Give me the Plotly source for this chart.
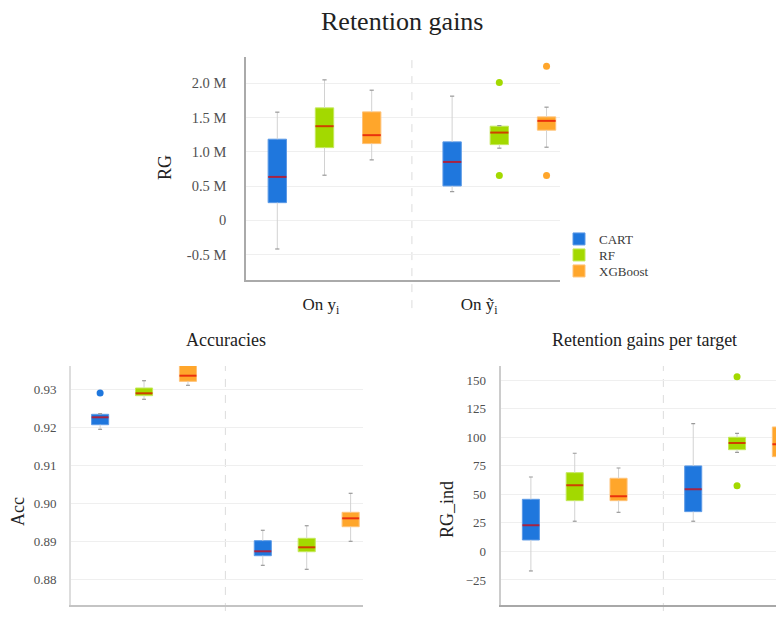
import plotly.graph_objects as go

# ---------------- data ----------------
models = ["CART", "RF", "XGBoost"]
targets = ["On y<sub>i</sub>", "On ỹ<sub>i</sub>"]
colors = ["#1f77dd", "#a3d900", "#ffa62b"]
edge_colors = ["#5c9ae6", "#c4e85a", "#ffc277"]

# Retention gains (rows: models, cols: targets)
rg_q1 = [[257000, 501000], [1061000, 1105000], [1120000, 1316000]]
rg_med = [[633000, 852000], [1374000, 1281000], [1243000, 1452000]]
rg_q3 = [[1184000, 1145000], [1642000, 1374000], [1583000, 1510000]]
rg_lo = [[-420000, 418000], [658000, 1053000], [882000, 1067000]]
rg_hi = [[1579000, 1813000], [2051000, 1383000], [1900000, 1652000]]
rg_out = [[[], []], [[], [2012000, 652000]], [[], [2251000, 652000]]]

# Accuracies
acc_q1 = [[0.92068, 0.88621], [0.92832, 0.88726], [0.93210, 0.89384]]
acc_med = [[0.92263, 0.88737], [0.92895, 0.88842], [0.93358, 0.89605]]
acc_q3 = [[0.92342, 0.89016], [0.93034, 0.89079], [0.93639, 0.89763]]
acc_lo = [[0.91947, 0.88368], [0.92737, 0.88263], [0.93105, 0.89000]]
acc_hi = [[0.92358, 0.89290], [0.93226, 0.89410], [0.93670, 0.90263]]
acc_out = [[[0.92903], []], [[], []], [[], []]]

# Retention gains per target
rgi_q1 = [[10.0, 34.8], [44.4, 89.0], [44.4, 82.9]]
rgi_med = [[22.9, 54.4], [57.8, 94.9], [48.2, 93.7]]
rgi_q3 = [[45.6, 74.8], [68.9, 99.9], [64.0, 108.9]]
rgi_lo = [[-17.1, 26.4], [26.4, 86.7], [34.2, 50.9]]
rgi_hi = [[65.1, 111.8], [85.9, 103.3], [73.0, 111.2]]
rgi_out = [[[], []], [[], [152.9, 57.5]], [[], [152.9]]]

rg_ticks = [-500000, 0, 500000, 1000000, 1500000, 2000000]
rg_ticktext = ["-0.5 M", "0", "0.5 M", "1.0 M", "1.5 M", "2.0 M"]
acc_ticks = [0.88, 0.89, 0.90, 0.91, 0.92, 0.93]
rgi_ticks = [-25, 0, 25, 50, 75, 100, 125, 150]

# ---------------- figure ----------------
PAGE_OFF = 8  # default body margin of the html page
W, H = 784 - 2 * PAGE_OFF, 619 - 2 * PAGE_OFF
FONT = "Liberation Serif"
OFFSET = 0.27
BW = 0.105
CAP = 0.012


def px_x(v):
    return (v - PAGE_OFF) / W


def px_y(v):
    return 1 - (v - PAGE_OFF) / H


fig = go.Figure()

panels = [
    dict(xa="x", ya="y", q1=rg_q1, med=rg_med, q3=rg_q3, lo=rg_lo, hi=rg_hi, out=rg_out, legend=True),
    dict(xa="x2", ya="y2", q1=acc_q1, med=acc_med, q3=acc_q3, lo=acc_lo, hi=acc_hi, out=acc_out, legend=False),
    dict(xa="x3", ya="y3", q1=rgi_q1, med=rgi_med, q3=rgi_q3, lo=rgi_lo, hi=rgi_hi, out=rgi_out, legend=False),
]
legend_ids = ["legend", "legend2", "legend3"]

for p in panels:
    wx, wy, cx, cy, mx, my = [], [], [], [], [], []
    for m, name in enumerate(models):
        xs = [t + (m - 1) * OFFSET for t in range(len(targets))]
        q1 = p["q1"][m]; q3 = p["q3"][m]
        fig.add_trace(go.Bar(
            x=xs, y=[b - a for a, b in zip(q1, q3)], base=q1, width=BW,
            marker=dict(color=colors[m], line=dict(color=edge_colors[m], width=1)),
            name=name, legendgroup=name, showlegend=p["legend"], legend=legend_ids[m],
            xaxis=p["xa"], yaxis=p["ya"], hoverinfo="skip"))
        for t, xc in enumerate(xs):
            lo, hi, med = p["lo"][m][t], p["hi"][m][t], p["med"][m][t]
            wx += [xc, xc, None, xc, xc, None]
            wy += [lo, q1[t], None, q3[t], hi, None]
            cx += [xc - CAP, xc + CAP, None, xc - CAP, xc + CAP, None]
            cy += [lo, lo, None, hi, hi, None]
            mx += [xc - BW / 2, xc + BW / 2, None]
            my += [med, med, None]
        ox, oy = [], []
        for t, xc in enumerate(xs):
            for v in p["out"][m][t]:
                ox.append(xc); oy.append(v)
        if ox:
            fig.add_trace(go.Scatter(x=ox, y=oy, mode="markers",
                                     marker=dict(color=colors[m], size=7),
                                     showlegend=False, xaxis=p["xa"], yaxis=p["ya"], hoverinfo="skip"))
    fig.add_trace(go.Scatter(x=wx, y=wy, mode="lines", line=dict(color="#d2d2d2", width=1),
                             showlegend=False, xaxis=p["xa"], yaxis=p["ya"], hoverinfo="skip"))
    fig.add_trace(go.Scatter(x=cx, y=cy, mode="lines", line=dict(color="#999999", width=1.2),
                             showlegend=False, xaxis=p["xa"], yaxis=p["ya"], hoverinfo="skip"))
    fig.add_trace(go.Scatter(x=mx, y=my, mode="lines", line=dict(color="rgba(225,0,0,0.7)", width=2),
                             showlegend=False, xaxis=p["xa"], yaxis=p["ya"], hoverinfo="skip"))

tick_font = dict(family=FONT, size=13, color="#505050")
leg_font = dict(family=FONT, size=13, color="#3a3a3a")
leg_rows = [239, 255, 271]
legs = {}
for i, lid in enumerate(legend_ids):
    legs[lid] = dict(x=px_x(559), y=px_y(leg_rows[i]), xanchor="left", yanchor="middle",
                     font=leg_font, bgcolor="rgba(0,0,0,0)", borderwidth=0)

fig.update_layout(
    width=W, height=H, autosize=False,
    margin=dict(l=0, r=0, t=0, b=0),
    paper_bgcolor="white", plot_bgcolor="white",
    barmode="overlay",
    font=dict(family=FONT, color="#222"),
    showlegend=True,
    **legs,
    xaxis=dict(domain=[px_x(246), px_x(560)], range=[-0.449, 1.347],
               tickvals=[-0.02, 0.884], ticktext=targets, ticks="outside", ticklen=8,
               tickcolor="rgba(0,0,0,0)", tickfont=dict(family=FONT, size=17, color="#222"),
               showgrid=False, zeroline=False, showline=True, linecolor="#aaaaaa", linewidth=1.5,
               anchor="y"),
    yaxis=dict(domain=[px_y(280), px_y(57)], range=[-873000, 2385000],
               tickvals=rg_ticks, ticktext=rg_ticktext, ticks="outside", ticklen=15,
               tickcolor="rgba(0,0,0,0)", tickfont=dict(family=FONT, size=14.5, color="#505050"),
               showgrid=True, gridcolor="#efefef", gridwidth=1, zeroline=False,
               showline=True, linecolor="#aaaaaa", linewidth=1.5, anchor="x"),
    xaxis2=dict(domain=[px_x(71), px_x(363)], range=[-0.449, 1.346],
                showticklabels=False, showgrid=False, zeroline=False,
                showline=True, linecolor="#c4c4c4", linewidth=2, anchor="y2"),
    yaxis2=dict(domain=[px_y(605), px_y(366)], range=[0.87324, 0.93613],
                tickvals=acc_ticks, tickformat=".2f", ticks="outside", ticklen=10,
                tickcolor="rgba(0,0,0,0)", tickfont=tick_font,
                showgrid=True, gridcolor="#efefef", gridwidth=1, zeroline=False,
                showline=True, linecolor="#dddddd", linewidth=2, anchor="x2"),
    xaxis3=dict(domain=[px_x(500.7), 1], range=[-0.456, 1.240],
                showticklabels=False, showgrid=False, zeroline=False,
                showline=True, linecolor="#a8a8a8", linewidth=2, anchor="y3"),
    yaxis3=dict(domain=[px_y(605), px_y(366)], range=[-46.9, 162.25],
                tickvals=rgi_ticks, ticks="outside", ticklen=10,
                tickcolor="rgba(0,0,0,0)", tickfont=tick_font,
                showgrid=True, gridcolor="#efefef", gridwidth=1, zeroline=False,
                showline=True, linecolor="#cccccc", linewidth=2, anchor="x3"),
)

# dashed dividers between the two targets
dividers = [("x", "y domain", 0.5, -0.126), ("x2", "y2 domain", 0.5, -0.025), ("x3", "y3 domain", 0.546, -0.025)]
for xr, yr, xv, y0 in dividers:
    fig.add_shape(type="line", xref=xr, yref=yr, x0=xv, x1=xv, y0=y0, y1=1,
                  line=dict(color="#dcdcdc", width=1, dash="8px,8px"), layer="below")

# titles
anns = [
    dict(text="Retention gains", x=px_x(402), y=px_y(21), size=26, angle=0),
    dict(text="Accuracies", x=px_x(226), y=px_y(340), size=18, angle=0),
    dict(text="Retention gains per target", x=px_x(644), y=px_y(340), size=18, angle=0),
    dict(text="RG", x=px_x(165), y=px_y(168), size=18, angle=-90),
    dict(text="Acc", x=px_x(18), y=px_y(512), size=18, angle=-90),
    dict(text="RG_ind", x=px_x(447), y=px_y(510), size=18, angle=-90),
]
for a in anns:
    fig.add_annotation(text=a["text"], x=a["x"], y=a["y"], xref="paper", yref="paper",
                       xanchor="center", yanchor="middle", showarrow=False, textangle=a["angle"],
                       font=dict(family=FONT, size=a["size"], color="#222"))

fig.write_html("out.html")
